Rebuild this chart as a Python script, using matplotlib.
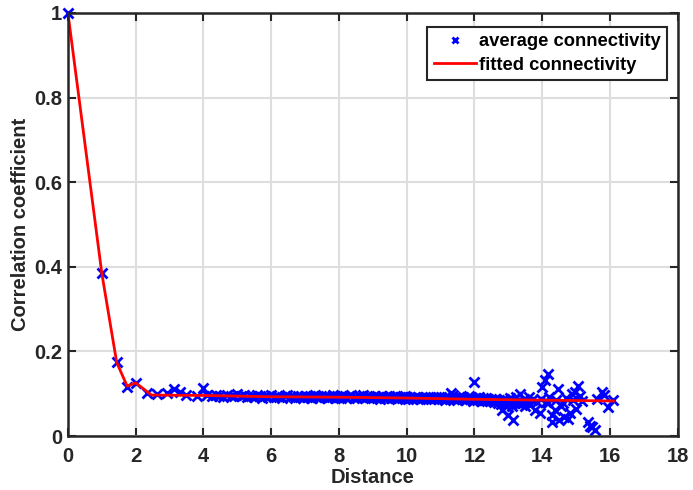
import numpy as np
import matplotlib
matplotlib.use('Agg')
import matplotlib.pyplot as plt

plt.rcParams['font.family'] = ['Liberation Sans', 'DejaVu Sans']
plt.rcParams['font.weight'] = 'bold'

# measured points at short distances
head_x = [0.0, 1.0, 1.44, 1.75, 2.0, 2.34, 2.62, 2.91, 3.13, 3.3, 3.5, 3.8, 3.99]
head_y = [1.0, 0.385, 0.176, 0.117, 0.126, 0.102, 0.099, 0.101, 0.111, 0.104, 0.097, 0.095, 0.114]

# dense band of averaged values (rows of 10)
band_x = [4.12, 4.24, 4.36, 4.47, 4.58, 4.69, 4.80, 4.90, 5.00, 5.10,
          5.20, 5.29, 5.39, 5.48, 5.57, 5.66, 5.74, 5.83, 5.92, 6.00,
          6.08, 6.16, 6.24, 6.32, 6.40, 6.48, 6.56, 6.63, 6.71, 6.78,
          6.86, 6.93, 7.00, 7.07, 7.14, 7.21, 7.28, 7.35, 7.42, 7.48,
          7.55, 7.62, 7.68, 7.75, 7.81, 7.87, 7.94, 8.00, 8.06, 8.12,
          8.19, 8.25, 8.31, 8.37, 8.43, 8.49, 8.54, 8.60, 8.66, 8.72,
          8.77, 8.83, 8.89, 8.94, 9.00, 9.06, 9.11, 9.17, 9.22, 9.27,
          9.33, 9.38, 9.43, 9.49, 9.54, 9.59, 9.64, 9.70, 9.75, 9.80,
          9.85, 9.90, 9.95, 10.00, 10.05, 10.10, 10.15, 10.20, 10.25, 10.30,
          10.34, 10.39, 10.44, 10.49, 10.54, 10.58, 10.63, 10.68, 10.72, 10.77,
          10.82, 10.86, 10.91, 10.95, 11.00, 11.05, 11.09, 11.14, 11.18, 11.22,
          11.27, 11.31, 11.36, 11.40, 11.45, 11.49, 11.53, 11.58, 11.62, 11.66,
          11.70, 11.75, 11.79, 11.83, 11.87, 11.92, 11.96, 12.04, 12.08, 12.12,
          12.17, 12.21, 12.25, 12.29, 12.33, 12.37, 12.41, 12.45, 12.49, 12.53,
          12.57, 12.61, 12.65, 12.69, 12.73, 12.77, 12.81, 12.85, 12.88, 12.92,
          12.96, 13.00, 13.04, 13.08, 13.11, 13.15, 13.19, 13.23, 13.27, 13.30]
band_y = [0.096, 0.094, 0.097, 0.095, 0.093, 0.096, 0.094, 0.095, 0.099, 0.094,
          0.096, 0.093, 0.095, 0.092, 0.096, 0.094, 0.091, 0.095, 0.093, 0.096,
          0.092, 0.095, 0.093, 0.090, 0.094, 0.096, 0.092, 0.094, 0.091, 0.095,
          0.093, 0.090, 0.095, 0.092, 0.094, 0.091, 0.096, 0.093, 0.089, 0.094,
          0.092, 0.095, 0.090, 0.093, 0.096, 0.091, 0.094, 0.092, 0.089, 0.095,
          0.093, 0.090, 0.094, 0.096, 0.091, 0.093, 0.089, 0.095, 0.092, 0.097,
          0.090, 0.093, 0.095, 0.089, 0.092, 0.094, 0.090, 0.093, 0.088, 0.095,
          0.091, 0.093, 0.089, 0.094, 0.090, 0.092, 0.095, 0.088, 0.091, 0.093,
          0.089, 0.092, 0.094, 0.090, 0.087, 0.093, 0.091, 0.088, 0.092, 0.090,
          0.093, 0.088, 0.091, 0.089, 0.092, 0.087, 0.090, 0.093, 0.088, 0.091,
          0.089, 0.092, 0.087, 0.090, 0.093, 0.088, 0.091, 0.086, 0.092, 0.089,
          0.087, 0.102, 0.096, 0.088, 0.090, 0.085, 0.093, 0.089, 0.087, 0.092,
          0.088, 0.085, 0.090, 0.094, 0.087, 0.089, 0.084, 0.090, 0.086, 0.092,
          0.088, 0.083, 0.089, 0.086, 0.091, 0.084, 0.088, 0.082, 0.087, 0.085,
          0.080, 0.088, 0.084, 0.078, 0.086, 0.075, 0.083, 0.079, 0.088, 0.072,
          0.084, 0.077, 0.089, 0.081, 0.070, 0.086, 0.079, 0.092, 0.083, 0.075]

# noisy values at long distances
tail_x = [12.0, 12.8, 12.98, 13.13, 13.35, 13.40, 13.45, 13.50, 13.55, 13.60,
          13.65, 13.70, 13.78, 13.85, 13.92, 13.97, 14.00, 14.07, 14.10, 14.16,
          14.16, 14.20, 14.28, 14.30, 14.37, 14.42, 14.48, 14.50, 14.55, 14.60,
          14.65, 14.70, 14.75, 14.81, 14.87, 14.92, 14.96, 15.00, 15.07, 15.12,
          15.18, 15.34, 15.40, 15.46, 15.55, 15.63, 15.75, 15.81, 15.93, 16.10]
tail_y = [0.128, 0.061, 0.050, 0.038, 0.100, 0.078, 0.088, 0.070, 0.083, 0.092,
          0.074, 0.086, 0.061, 0.080, 0.055, 0.088, 0.115, 0.132, 0.080, 0.147,
          0.078, 0.092, 0.050, 0.033, 0.061, 0.085, 0.111, 0.038, 0.070, 0.078,
          0.045, 0.090, 0.040, 0.054, 0.100, 0.085, 0.104, 0.065, 0.118, 0.095,
          0.082, 0.033, 0.025, 0.021, 0.014, 0.087, 0.104, 0.096, 0.068, 0.085]

# fitted connectivity curve
fit_x = [0.0, 1.0, 1.44, 1.75, 2.0, 2.47, 4.0, 6.0, 8.0, 10.0, 12.0, 14.0, 16.1]
fit_y = [1.0, 0.385, 0.174, 0.118, 0.126, 0.097, 0.096, 0.093, 0.092, 0.090, 0.087, 0.085, 0.083]

x_all = head_x + band_x + tail_x
y_all = head_y + band_y + tail_y

fig = plt.figure(figsize=(6.93, 4.90), dpi=100)
ax = fig.add_axes([0.098, 0.110, 0.880, 0.8635])

ax.plot(x_all, y_all, linestyle='none', marker='x', color='#0000ff',
        markersize=7, markeredgewidth=2, label='average connectivity', clip_on=False)
ax.plot(fit_x, fit_y, color='#ff0000', linewidth=2, label='fitted connectivity')

ax.set_xlim(0, 18)
ax.set_ylim(0, 1)
ax.set_xticks(np.arange(0, 19, 2))
ax.set_yticks([0, 0.2, 0.4, 0.6, 0.8, 1])
ax.set_yticklabels(['0', '0.2', '0.4', '0.6', '0.8', '1'])
ax.grid(True, color='#dedede', linewidth=1.5)
ax.set_axisbelow(True)
ax.tick_params(direction='in', length=6, width=1.5, labelsize=14.5,
               top=True, right=True, colors='#262626')
ax.tick_params(axis='x', pad=8)
ax.tick_params(axis='y', pad=4)
for sp in ax.spines.values():
    sp.set_linewidth(1.8)
    sp.set_color('#262626')

ax.set_xlabel('Distance', fontsize=14.5, fontweight='bold', color='#262626', labelpad=1.5)
ax.set_ylabel('Correlation coefficient', fontsize=14.5, fontweight='bold', color='#262626', labelpad=3)

leg = ax.legend(loc='upper right', fontsize=13.2, fancybox=False, framealpha=1,
                edgecolor='#262626', borderpad=0.35, handlelength=2.3,
                handletextpad=0.15, labelspacing=0.35, borderaxespad=0,
                markerscale=0.7, bbox_to_anchor=(0.982, 0.967))
leg.get_frame().set_linewidth(1.5)
for t in leg.get_texts():
    t.set_fontweight('bold')

plt.savefig('out.png', dpi=100)
